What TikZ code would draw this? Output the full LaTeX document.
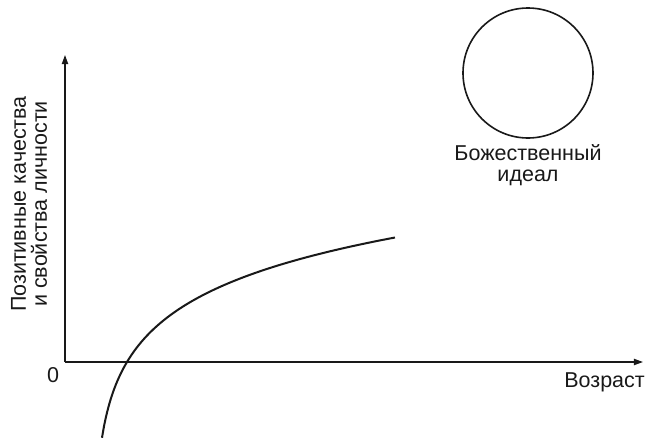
\documentclass[tikz,border=0pt]{standalone}
\usepackage{fontspec}
\setmainfont{Liberation Sans}
\usetikzlibrary{arrows.meta,positioning,calc}
\definecolor{ink}{RGB}{25,25,25}
\tikzset{
  axis/.style={-{Triangle[length=3.2mm,width=2.2mm]},line width=1.3pt,draw=ink},
  crv/.style={line width=2pt,draw=ink},
  ideal/.style={circle,draw=ink,line width=1.6pt,minimum size=130pt,inner sep=0pt},
  lbl/.style={font=\fontsize{21.5}{21}\selectfont,text=ink,align=center,inner sep=0pt},
}
\begin{document}
\begin{tikzpicture}[x=1pt,y=-1pt]
\useasboundingbox (0,0) rectangle (646,439);
% axes
\coordinate (O) at (65,362);
\coordinate (ytip) at (65,55);
\coordinate (xtip) at (643,362);
\draw[axis] (O) -- (ytip);
\draw[axis] (O) -- (xtip);
\node[lbl] (zero) at (53,375) {0};
\node[lbl,anchor=east] (age) at (645,382) {Возраст};
\node[lbl,rotate=90] (qual) at (29,204) {Позитивные качества\\и свойства личности};
% growth curve
\draw[crv] plot[domain=102:395,samples=150,smooth] (\x,{362-57*ln((\x-93)/34)});
% ideal
\node[ideal] (god) at (528,73) {};
\node[lbl,below=6pt of god] (godtxt) {Божественный\\идеал};
\end{tikzpicture}
\end{document}
